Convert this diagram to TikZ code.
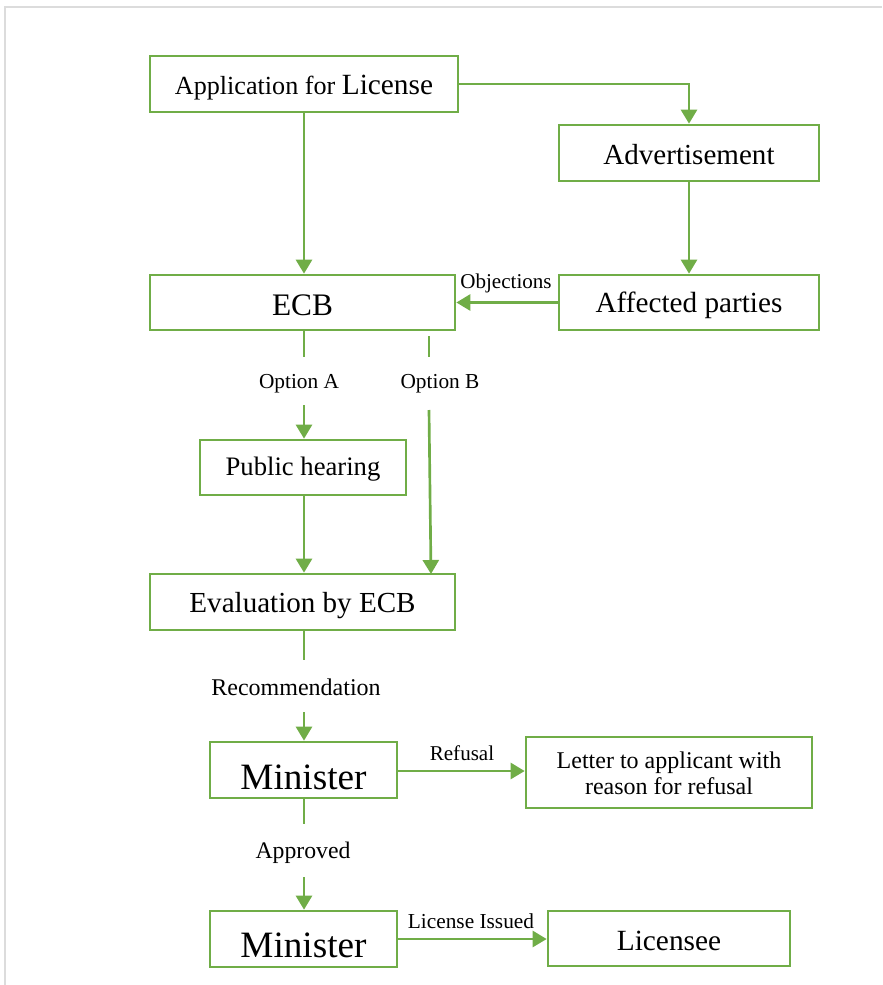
\documentclass[tikz,border=0pt]{standalone}
\usepackage{fontspec}
\setmainfont{Liberation Serif}
\usetikzlibrary{arrows.meta,calc}
\definecolor{leaf}{HTML}{70AD47}
\definecolor{frame}{HTML}{DCDCDC}
\newcommand{\fs}[1]{\fontsize{#1}{#1}\selectfont}
% lower the text inside a box while keeping the box's own extent
\newcommand{\dn}[2]{\raisebox{-#1}[\height][\depth]{#2}}
\tikzset{
  box/.style={draw=leaf, line width=2pt, fill=white, inner sep=0pt, align=center, text=black},
  link/.style={draw=leaf, line width=2pt},
  arrow/.style={link, -{Triangle[length=10.5pt,width=12pt]}},
  lbl/.style={inner sep=0pt, text=black, font=\fs{15.8pt}}
}
\begin{document}
\begin{tikzpicture}[x=0.75pt,y=-0.75pt]
\useasboundingbox (0,0) rectangle (882,985);
% page frame
\draw[frame, line width=1.5pt] (5,985) -- (5,7) -- (882,7);

% boxes
\node[box, minimum width=231pt, minimum height=42pt] (app) at (304,84)
  {\dn{3pt}{{\fs{19.6pt}Application for }{\fs{22pt}License}}};
\node[box, minimum width=195pt, minimum height=42pt] (adv) at (689,153) {\dn{1.5pt}{\fs{21.8pt}Advertisement}};
\node[box, minimum width=228.75pt, minimum height=41.25pt] (ecb) at (302.5,302.5) {\dn{2.3pt}{\fs{23.5pt}ECB}};
\node[box, minimum width=195pt, minimum height=41.25pt] (aff) at (689,302.5) {\dn{2.3pt}{\fs{21.9pt}Affected parties}};
\node[box, minimum width=154.5pt, minimum height=41.25pt] (pub) at (303,467.5) {\dn{1.5pt}{\fs{20pt}Public hearing}};
\node[box, minimum width=228.75pt, minimum height=42pt] (eval) at (302.5,602) {\dn{3pt}{\fs{21.8pt}Evaluation by ECB}};
\node[box, minimum width=140.25pt, minimum height=42pt] (min1) at (303.5,770) {\dn{5.2pt}{\fs{27.9pt}Minister}};
\node[box, minimum width=214.5pt, minimum height=53.25pt] (letter) at (669,772.5)
  {\dn{3pt}{\fs{18pt}\begin{tabular}{@{}c@{}}Letter to applicant with\\[1pt]reason for refusal\end{tabular}}};
\node[box, minimum width=140.25pt, minimum height=42pt] (min2) at (303.5,939) {\dn{4.5pt}{\fs{27.9pt}Minister}};
\node[box, minimum width=181.5pt, minimum height=41.25pt] (lic) at (669,938.5) {\dn{1.5pt}{\fs{22pt}Licensee}};

% labels
\node[lbl] (obj) at (506,283) {Objections};
\node[lbl, font=\fs{16pt}] (optA) at (299,383.5) {Option A};
\node[lbl, font=\fs{16pt}] (optB) at (440,383.5) {Option B};
\node[lbl, font=\fs{18pt}] (rec) at (296,687.5) {Recommendation};
\node[lbl] (ref) at (462,753) {Refusal};
\node[lbl, font=\fs{17.8pt}] (appr) at (303,852.5) {Approved};
\node[lbl, font=\fs{16pt}] (iss) at (471,921.5) {License Issued};

% free ends of split connectors
\coordinate (a1) at (304,357);
\coordinate (a2) at (304,405);
\coordinate (b0) at (429,336);
\coordinate (b1) at (429,357);
\coordinate (b2) at (429,410);
\coordinate (b3) at (431,574);
\coordinate (r1) at (304,660);
\coordinate (r2) at (304,712);
\coordinate (p1) at (304,824);
\coordinate (p2) at (304,877);

% connectors
\draw[arrow] (app.east) -| (adv.north);
\draw[arrow] (app.south -| a1) -- (ecb.north -| a1);
\draw[arrow] (adv.south) -- (aff.north);
\draw[arrow] (aff.west) -- (ecb.east);
\draw[link] (ecb.south -| a1) -- (a1);
\draw[arrow] (a2) -- (pub.north -| a2);
\draw[link] (b0) -- (b1);
\draw[arrow] (b2) -- (b3);
\draw[arrow] (pub.south -| a1) -- (eval.north -| a1);
\draw[link] (eval.south -| r1) -- (r1);
\draw[arrow] (r2) -- (min1.north -| r2);
\draw[arrow] ($(min1.east)+(0,1)$) -- ($(letter.west|-min1.east)+(0,1)$);
\draw[link] (min1.south -| p1) -- (p1);
\draw[arrow] (p2) -- (min2.north -| p2);
\draw[arrow] (min2.east) -- (min2.east -| lic.west);
\end{tikzpicture}
\end{document}
